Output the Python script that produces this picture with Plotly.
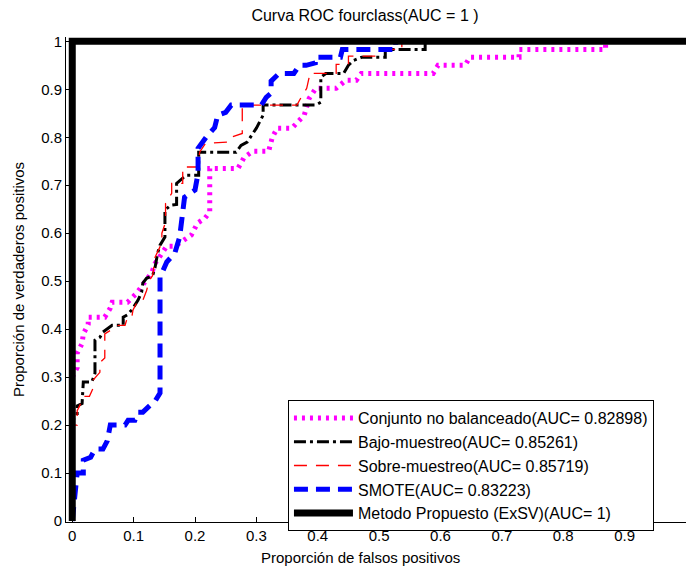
import plotly.graph_objects as go

# ---- data ----
names = [
    "Conjunto no balanceado(AUC= 0.82898)",
    "Bajo-muestreo(AUC= 0.85261)",
    "Sobre-muestreo(AUC= 0.85719)",
    "SMOTE(AUC= 0.83223)",
    "Metodo Propuesto (ExSV)(AUC= 1)",
]

fpr_nobal = [0, 0, 0.008, 0.008, 0.016, 0.018, 0.026, 0.026, 0.053, 0.062, 0.065, 0.09, 0.105, 0.113,
             0.123, 0.13, 0.135, 0.154, 0.167, 0.194, 0.204, 0.216, 0.224, 0.224, 0.27, 0.28, 0.294,
             0.32, 0.326, 0.334, 0.358, 0.37, 0.378, 0.386, 0.397, 0.43, 0.446, 0.463, 0.471, 0.588,
             0.596, 0.64, 0.648, 0.728, 0.728, 0.869, 0.869, 1]
tpr_nobal = [0, 0.3, 0.32, 0.35, 0.37, 0.39, 0.41, 0.425, 0.425, 0.444, 0.456, 0.456, 0.475, 0.49,
             0.506, 0.519, 0.537, 0.573, 0.573, 0.596, 0.621, 0.631, 0.644, 0.735, 0.735, 0.758, 0.771,
             0.771, 0.8, 0.819, 0.819, 0.835, 0.846, 0.881, 0.902, 0.902, 0.919, 0.919, 0.933, 0.933,
             0.95, 0.95, 0.967, 0.967, 0.983, 0.983, 1, 1]

fpr_bajo = [0, 0, 0.008, 0.008, 0.016, 0.018, 0.018, 0.032, 0.037, 0.037, 0.045, 0.05, 0.065, 0.083,
            0.083, 0.09, 0.097, 0.102, 0.107, 0.113, 0.115, 0.121, 0.131, 0.135, 0.139, 0.143, 0.151,
            0.151, 0.16, 0.17, 0.17, 0.18, 0.186, 0.206, 0.206, 0.267, 0.275, 0.285, 0.3, 0.311, 0.311,
            0.397, 0.405, 0.405, 0.413, 0.442, 0.45, 0.458, 0.472, 0.51, 0.51, 0.575, 0.575, 1]
tpr_bajo = [0, 0.21, 0.22, 0.24, 0.245, 0.277, 0.29, 0.29, 0.308, 0.377, 0.383, 0.394, 0.408, 0.408,
            0.425, 0.43, 0.44, 0.45, 0.46, 0.477, 0.496, 0.506, 0.512, 0.529, 0.558, 0.575, 0.592,
            0.648, 0.658, 0.66, 0.704, 0.715, 0.721, 0.721, 0.769, 0.769, 0.783, 0.79, 0.819, 0.846,
            0.867, 0.867, 0.873, 0.925, 0.933, 0.933, 0.95, 0.96, 0.967, 0.967, 0.983, 0.983, 1, 1]

fpr_sobre = [0, 0, 0.008, 0.008, 0.012, 0.018, 0.028, 0.034, 0.034, 0.045, 0.045, 0.053, 0.053, 0.075,
             0.086, 0.09, 0.097, 0.099, 0.107, 0.115, 0.121, 0.125, 0.131, 0.135, 0.146, 0.146, 0.152,
             0.152, 0.162, 0.162, 0.18, 0.18, 0.203, 0.208, 0.217, 0.255, 0.259, 0.277, 0.277, 0.366,
             0.375, 0.382, 0.386, 0.386, 0.43, 0.43, 0.45, 0.45, 0.496, 0.51, 0.537, 0.537, 1]
tpr_sobre = [0, 0.2, 0.2, 0.23, 0.24, 0.26, 0.26, 0.277, 0.294, 0.31, 0.33, 0.34, 0.39, 0.408, 0.408,
             0.425, 0.425, 0.44, 0.46, 0.46, 0.48, 0.5, 0.512, 0.55, 0.58, 0.6, 0.623, 0.662, 0.683,
             0.704, 0.704, 0.738, 0.738, 0.77, 0.787, 0.79, 0.8, 0.808, 0.867, 0.867, 0.888, 0.902,
             0.925, 0.933, 0.933, 0.952, 0.952, 0.969, 0.969, 0.983, 0.983, 1, 1]

fpr_smote = [0, 0.005, 0.008, 0.018, 0.018, 0.03, 0.037, 0.05, 0.057, 0.062, 0.086, 0.091, 0.102, 0.107,
             0.115, 0.13, 0.135, 0.143, 0.143, 0.154, 0.167, 0.175, 0.18, 0.183, 0.2, 0.205, 0.205,
             0.218, 0.232, 0.237, 0.25, 0.259, 0.308, 0.316, 0.324, 0.324, 0.337, 0.361, 0.37, 0.381,
             0.396, 0.396, 0.437, 0.44, 0.527, 0.527, 1]
tpr_smote = [0, 0.067, 0.1, 0.1, 0.127, 0.133, 0.15, 0.15, 0.167, 0.2, 0.2, 0.21, 0.21, 0.227, 0.227,
             0.245, 0.25, 0.267, 0.508, 0.54, 0.558, 0.592, 0.637, 0.675, 0.69, 0.725, 0.777, 0.8, 0.82,
             0.846, 0.852, 0.867, 0.867, 0.883, 0.892, 0.917, 0.933, 0.933, 0.95, 0.95, 0.955, 0.967,
             0.967, 0.983, 0.983, 1, 1]

fpr_prop = [0, 0, 1]
tpr_prop = [0, 1, 1]

x_ticks = [0, 0.1, 0.2, 0.3, 0.4, 0.5, 0.6, 0.7, 0.8, 0.9, 1]
x_ticklabels = ["0", "0.1", "0.2", "0.3", "0.4", "0.5", "0.6", "0.7", "0.8", "0.9", "1"]
y_ticks = [0, 0.1, 0.2, 0.3, 0.4, 0.5, 0.6, 0.7, 0.8, 0.9, 1]
y_ticklabels = ["0", "0.1", "0.2", "0.3", "0.4", "0.5", "0.6", "0.7", "0.8", "0.9", "1"]

FONT = "Liberation Sans, Arial, sans-serif"

W, H = 686, 571

fig = go.Figure()
fig.add_trace(go.Scatter(x=fpr_nobal, y=tpr_nobal, mode="lines", name=names[0],
                         line=dict(color="#FF00FF", width=5, dash="3px,5px")))
fig.add_trace(go.Scatter(x=fpr_bajo, y=tpr_bajo, mode="lines", name=names[1],
                         line=dict(color="#000000", width=3, dash="12px,4px,3px,4px")))
fig.add_trace(go.Scatter(x=fpr_sobre, y=tpr_sobre, mode="lines", name=names[2],
                         line=dict(color="#FF0000", width=1.3, dash="13px,9px")))
fig.add_trace(go.Scatter(x=fpr_smote, y=tpr_smote, mode="lines", name=names[3],
                         line=dict(color="#0000FF", width=5, dash="14px,8px")))
fig.add_trace(go.Scatter(x=fpr_prop, y=tpr_prop, mode="lines", name=names[4],
                         line=dict(color="#000000", width=7)))

fig.update_layout(
    width=W, height=H,
    margin=dict(l=66, r=0, t=37, b=49, autoexpand=False),
    paper_bgcolor="white", plot_bgcolor="white",
    font=dict(family=FONT, size=14, color="black"),
    title=dict(text="Curva ROC fourclass(AUC = 1 )", x=365 / W, xref="container", xanchor="center",
               y=1 - 15 / H, yref="container", yanchor="middle",
               font=dict(family=FONT, size=16, color="black")),
    showlegend=True,
    legend=dict(x=0.358, y=0.2515, xanchor="left", yanchor="top",
                bgcolor="white", bordercolor="black", borderwidth=1,
                font=dict(family=FONT, size=16, color="black"),
                itemwidth=59, tracegroupgap=0),
    annotations=[dict(text="Proporción de falsos positivos", xref="paper", yref="paper",
                      x=(360 - 66) / 620, y=(522 - 557) / 485, xanchor="center", yanchor="middle",
                      showarrow=False, font=dict(family=FONT, size=15, color="black"))],
)
fig.update_xaxes(range=[-0.0102, 1.0], tickvals=x_ticks, ticktext=x_ticklabels, automargin=False,
                 ticks="inside", ticklen=5, tickcolor="black", showgrid=False, zeroline=False,
                 showline=True, linecolor="black", linewidth=1, mirror=False,
                 tickfont=dict(family=FONT, size=15))
fig.update_yaxes(range=[-0.002, 1.009], tickvals=y_ticks, ticktext=y_ticklabels, automargin=False,
                 ticks="inside", ticklen=5, tickcolor="black", showgrid=False, zeroline=False,
                 showline=True, linecolor="black", linewidth=1, mirror=False,
                 tickfont=dict(family=FONT, size=15),
                 title=dict(text="Proporción de verdaderos positivos", standoff=12,
                            font=dict(family=FONT, size=15)))

# remove the page's default 8px body margin so the figure fills the window exactly
fig.write_html("out.html", config={"displayModeBar": False},
               post_script="document.body.style.margin='0px';")
